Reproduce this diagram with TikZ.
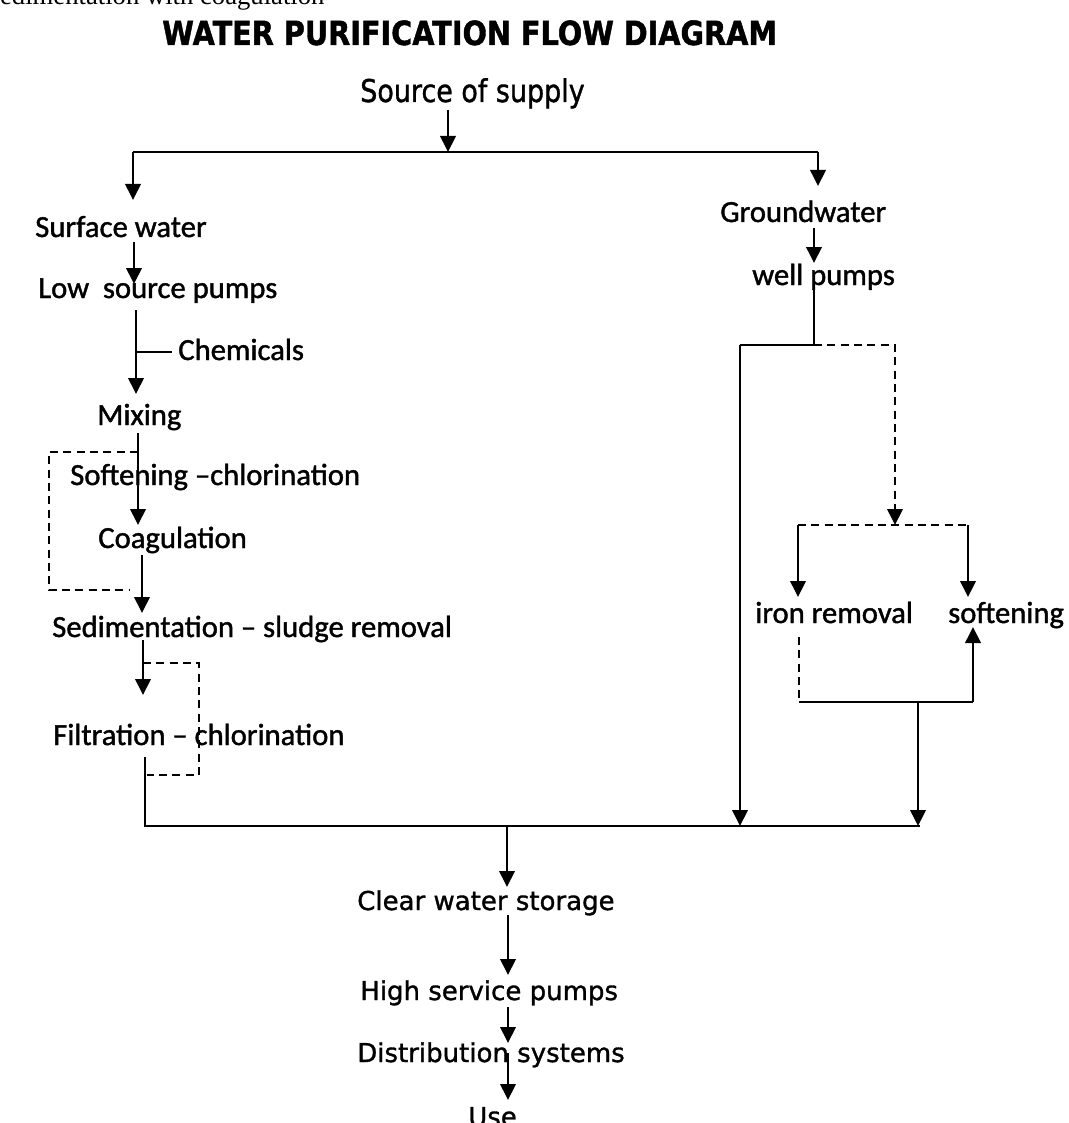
\documentclass[tikz,border=0pt]{standalone}
\usepackage{graphicx}
\usepackage{fontspec}
\setmainfont[FakeBold=1.3]{Carlito}
\newfontfamily\dvfont[FakeBold=1.2]{DejaVu Sans}
\newfontfamily\dvbfont[FakeBold=1.5]{DejaVu Sans Bold}
\newfontfamily\serfont{Liberation Serif}
\usetikzlibrary{arrows.meta}
\begin{document}
\begin{tikzpicture}[x=0.75pt,y=-0.75pt,
  lbl/.style={anchor=base west,inner sep=0pt,font=\fontsize{23pt}{26pt}\selectfont},
  dlbl/.style={anchor=base west,inner sep=0pt,font=\dvfont\fontsize{19.5pt}{22pt}\selectfont},
  ln/.style={line width=2pt,line join=miter},
  arr/.style={ln,-{Triangle[width=11.5pt,length=12pt]}},
  dsh/.style={ln,dash pattern=on 6pt off 4pt},
  darr/.style={dsh,-{Triangle[width=11.5pt,length=12pt]}}]
\fill[white] (0,0) rectangle (1068,1123);
\useasboundingbox (0,0) rectangle (1068,1123);

% texts
\node[anchor=base west,inner sep=0pt,font=\serfont\fontsize{20pt}{22pt}\selectfont] (cut) at (-15,5) {Sedimentation with coagulation};
\node[anchor=base west,inner sep=0pt] (title) at (162,45) {\resizebox{461pt}{18.5pt}{\dvbfont WATER PURIFICATION FLOW DIAGRAM}};
\node[anchor=base west,inner sep=0pt] (src) at (360,102) {\scalebox{0.86}[1]{\dvfont\fontsize{23.5pt}{26pt}\selectfont Source of supply}};
\node[lbl] (surf) at (35,237) {Surface water};
\node[lbl] (lowp) at (38,298) {Low\ \ source pumps};
\node[lbl] (chem) at (178,360) {Chemicals};
\node[lbl] (mix) at (97,425) {Mixing};
\node[lbl] (soft) at (70,485) {Softening –chlorination};
\node[lbl] (coag) at (98,548) {Coagulation};
\node[lbl] (sedi) at (52,637) {Sedimentation – sludge removal};
\node[lbl] (filt) at (53,745) {Filtration – chlorination};
\node[lbl] (gw) at (720,222) {Groundwater};
\node[lbl] (well) at (752,285) {well pumps};
\node[lbl] (iron) at (755,623) {iron removal};
\node[lbl] (gsoft) at (948,623) {softening};
\node[dlbl] (clear) at (357,910) {Clear water storage};
\node[dlbl] (high) at (360,1000) {High service pumps};
\node[dlbl] (dist) at (357,1062) {Distribution systems};
\node[dlbl] (use) at (468,1126) {Use};

% junction coordinates
\coordinate (s0) at (448,110);
\coordinate (s1) at (448,152);
\coordinate (tl) at (133,152);
\coordinate (tr) at (818,152);
\coordinate (surfin) at (133,200);
\coordinate (gwin) at (818,186);
\coordinate (a0) at (134,242); \coordinate (a1) at (134,284);
\coordinate (b0) at (136,310); \coordinate (b1) at (136,394); \coordinate (bc) at (136,352); \coordinate (bce) at (172,352);
\coordinate (c0) at (138,433); \coordinate (c1) at (138,525); \coordinate (cd) at (138,452);
\coordinate (d0) at (142,555); \coordinate (d1) at (142,613);
\coordinate (e0) at (143,640); \coordinate (e1) at (143,695); \coordinate (ed) at (143,663);
\coordinate (f0) at (145,757); \coordinate (bl) at (145,826); \coordinate (br) at (920,826);
\coordinate (g0) at (814,228); \coordinate (g1) at (814,263);
\coordinate (h0) at (814,290); \coordinate (h1) at (814,345);
\coordinate (hl) at (740,345); \coordinate (hlb) at (740,826);
\coordinate (hr) at (895,345); \coordinate (hrb) at (895,525);
\coordinate (bxl) at (798,525); \coordinate (bxr) at (968,525);
\coordinate (irin) at (798,597); \coordinate (sfin) at (968,597);
\coordinate (i0) at (799,637); \coordinate (i1) at (799,702); \coordinate (j1) at (973,702); \coordinate (sfout) at (973,627);
\coordinate (k0) at (918,702); \coordinate (k1) at (918,826);
\coordinate (m0) at (507,826); \coordinate (m1) at (507,887);
\coordinate (n0) at (508,915); \coordinate (n1) at (508,975);
\coordinate (o0) at (508,1007); \coordinate (o1) at (508,1043);
\coordinate (p0) at (508,1053); \coordinate (p1) at (508,1100);

% connectors
\draw[arr] (s0) -- (s1);
\draw[ln] (tl) -- (tr);
\draw[arr] (tl) -- (surfin);
\draw[arr] (tr) -- (gwin);
\draw[arr] (a0) -- (a1);
\draw[arr] (b0) -- (b1);
\draw[ln] (bc) -- (bce);
\draw[arr] (c0) -- (c1);
\draw[dsh] (cd) -- (49,452) -- (49,590) -- (129,590);
\draw[arr] (d0) -- (d1);
\draw[arr] (e0) -- (e1);
\draw[dsh] (ed) -- (199,663) -- (199,775) -- (147,775);
\draw[ln] (f0) -- (bl) -- (br);
\draw[arr] (g0) -- (g1);
\draw[ln] (h0) -- (h1) -- (hl);
\draw[arr] (hl) -- (hlb);
\draw[darr] (h1) -- (hr) -- (hrb);
\draw[dsh] (bxl) -- (bxr);
\draw[arr] (bxl) -- (irin);
\draw[arr] (bxr) -- (sfin);
\draw[dsh] (i0) -- (i1);
\draw[ln] (i1) -- (j1);
\draw[arr] (j1) -- (sfout);
\draw[arr] (k0) -- (k1);
\draw[arr] (m0) -- (m1);
\draw[arr] (n0) -- (n1);
\draw[arr] (o0) -- (o1);
\draw[arr] (p0) -- (p1);
\end{tikzpicture}
\end{document}
